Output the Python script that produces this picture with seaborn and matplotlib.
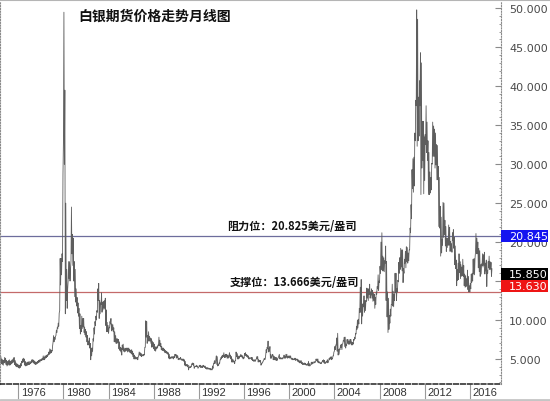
import numpy as np
import pandas as pd
import matplotlib
matplotlib.use("Agg")
import matplotlib.pyplot as plt
import matplotlib.transforms as mtransforms
from matplotlib.patches import Rectangle
from matplotlib.lines import Line2D
import seaborn as sns

# ---------------- data (monthly low / high, USD per ounce) ----------------
start_year, start_month = 1974, 6

low = [
    4.5, 4.4, 4.3, 4.2, 4.5, 4.6, 4.3,                                  # 1974 Jun-Dec
    4.1, 4.2, 4.3, 4.2, 4.3, 4.4, 4.5, 4.6, 4.3, 4.1, 4.0, 4.0,         # 1975
    3.9, 3.8, 3.9, 4.1, 4.5, 4.6, 4.6, 4.2, 4.1, 4.2, 4.2, 4.3,         # 1976
    4.3, 4.4, 4.5, 4.6, 4.5, 4.4, 4.3, 4.3, 4.4, 4.5, 4.6, 4.6,         # 1977
    4.8, 4.8, 4.9, 4.9, 4.9, 5.1, 5.2, 5.3, 5.5, 5.6, 5.7, 5.8,         # 1978
    6.0, 7.2, 7.2, 7.5, 8.0, 8.4, 8.9, 9.2, 11.2, 14.5, 15.8, 17.5,     # 1979
    33.0, 30.0, 10.8, 12.5, 11.5, 15.0, 15.3, 15.0, 17.5, 18.5, 17.0, 15.0,  # 1980
    13.0, 12.3, 11.8, 10.9, 10.5, 8.9, 8.2, 8.5, 8.9, 9.1, 8.4, 8.1,    # 1981
    7.8, 7.2, 6.8, 6.8, 6.4, 4.9, 5.4, 6.0, 7.3, 8.2, 9.3, 10.0,        # 1982
    11.0, 12.5, 10.2, 10.8, 12.0, 11.0, 11.3, 11.5, 11.4, 9.3, 8.5, 8.5,  # 1983
    8.3, 9.0, 9.5, 8.6, 8.7, 8.5, 7.2, 7.2, 7.0, 7.0, 7.1, 6.3,         # 1984
    6.1, 5.9, 5.5, 6.2, 6.0, 5.9, 6.0, 6.1, 5.9, 6.0, 5.9, 5.8,         # 1985
    5.7, 5.6, 5.3, 5.0, 5.0, 5.0, 5.0, 4.9, 5.4, 5.5, 5.4, 5.3,         # 1986
    5.4, 5.4, 5.5, 6.5, 7.8, 7.0, 7.3, 7.3, 7.3, 7.0, 6.5, 6.6,         # 1987
    6.3, 6.1, 6.0, 6.3, 6.4, 6.7, 6.7, 6.6, 6.2, 6.1, 6.1, 6.0,         # 1988
    5.8, 5.8, 5.7, 5.6, 5.1, 5.0, 5.1, 5.1, 5.1, 5.0, 5.2, 5.4,         # 1989
    5.1, 5.2, 4.9, 4.9, 5.0, 4.9, 4.8, 4.8, 4.7, 4.2, 4.1, 4.1,         # 1990
    4.0, 3.6, 3.9, 3.9, 4.0, 4.3, 4.2, 3.8, 4.0, 4.0, 4.0, 3.8,         # 1991
    4.0, 4.0, 3.9, 3.9, 3.9, 4.0, 3.9, 3.8, 3.7, 3.7, 3.7, 3.7,         # 1992
    3.6, 3.6, 3.6, 3.8, 4.4, 4.4, 4.9, 4.3, 4.1, 4.2, 4.4, 4.9,         # 1993
    5.0, 5.2, 5.3, 5.2, 5.2, 5.3, 5.1, 5.1, 5.5, 5.2, 5.0, 4.6,         # 1994
    4.6, 4.6, 4.4, 4.8, 5.3, 5.0, 5.0, 5.1, 5.3, 5.3, 5.2, 5.0,         # 1995
    5.1, 5.5, 5.4, 5.3, 5.2, 5.0, 5.0, 5.1, 4.9, 4.8, 4.7, 4.7,         # 1996
    4.7, 5.0, 5.0, 4.6, 4.7, 4.6, 4.2, 4.4, 4.6, 4.9, 4.9, 5.5,         # 1997
    5.8, 6.3, 5.9, 6.0, 5.1, 5.1, 5.4, 4.9, 4.9, 4.9, 4.8, 4.8,         # 1998
    5.1, 5.4, 5.0, 5.0, 5.0, 5.0, 5.2, 5.1, 5.1, 5.2, 5.1, 5.2,         # 1999
    5.1, 5.2, 5.0, 4.9, 4.9, 4.9, 4.9, 4.8, 4.9, 4.7, 4.6, 4.5,         # 2000
    4.5, 4.4, 4.3, 4.3, 4.3, 4.3, 4.2, 4.2, 4.2, 4.1, 4.1, 4.3,         # 2001
    4.3, 4.4, 4.5, 4.5, 4.6, 4.8, 4.6, 4.5, 4.5, 4.4, 4.4, 4.6,         # 2002
    4.7, 4.5, 4.4, 4.5, 4.6, 4.5, 4.8, 4.9, 5.0, 4.9, 5.0, 5.4,         # 2003
    6.0, 6.2, 6.8, 6.0, 5.5, 5.6, 6.2, 6.5, 6.2, 7.0, 7.3, 6.6,         # 2004
    6.4, 6.7, 7.0, 6.9, 6.9, 7.0, 6.8, 6.8, 6.9, 7.4, 7.6, 8.2,         # 2005
    8.8, 9.0, 9.5, 11.0, 11.0, 9.5, 10.5, 11.7, 11.0, 11.2, 12.4, 12.8,  # 2006
    12.5, 13.3, 12.8, 13.2, 12.8, 12.4, 12.5, 11.5, 12.0, 13.3, 14.0, 13.8,  # 2007
    14.8, 16.0, 16.5, 16.3, 16.3, 16.2, 17.3, 12.5, 10.4, 8.4, 8.8, 9.6,  # 2008
    10.5, 12.0, 11.8, 11.7, 12.5, 13.5, 12.5, 13.6, 14.9, 16.0, 16.5, 16.8,  # 2009
    16.3, 14.8, 16.0, 17.3, 16.7, 17.5, 17.3, 17.6, 19.0, 21.2, 23.0, 26.9,  # 2010
    26.4, 27.2, 33.0, 37.5, 32.3, 33.0, 33.6, 37.5, 26.1, 29.5, 30.5, 26.2,  # 2011
    27.9, 32.5, 31.5, 30.5, 26.1, 26.1, 26.3, 26.7, 30.0, 31.0, 31.0, 29.5,  # 2012
    29.9, 28.0, 28.0, 22.0, 21.8, 18.2, 18.6, 19.6, 20.6, 21.0, 19.5, 18.8,  # 2013
    19.3, 19.6, 19.6, 18.8, 18.9, 18.7, 20.2, 19.2, 17.1, 16.6, 14.4, 15.1,  # 2014
    15.2, 16.1, 15.3, 15.6, 15.7, 15.6, 14.4, 14.2, 14.3, 14.5, 13.9, 13.6,  # 2015
    13.6, 14.0, 14.8, 15.0, 15.9, 15.8, 18.7, 18.5, 18.5, 16.7, 16.2, 15.6,  # 2016
    15.9, 17.0, 16.8, 17.0, 15.9, 16.3, 14.3, 16.0, 16.7, 16.5, 16.5, 15.6,  # 2017
]

high = [
    5.3, 5.0, 4.9, 4.8, 5.2, 5.1, 4.8,                                  # 1974 Jun-Dec
    4.7, 4.8, 4.9, 4.7, 4.8, 4.9, 5.0, 5.2, 4.8, 4.5, 4.4, 4.3,         # 1975
    4.2, 4.2, 4.4, 4.7, 5.0, 5.1, 5.0, 4.7, 4.5, 4.6, 4.6, 4.7,         # 1976
    4.5, 4.7, 4.9, 4.9, 4.8, 4.7, 4.6, 4.6, 4.7, 4.8, 4.9, 4.9,         # 1977
    5.0, 5.1, 5.4, 5.2, 5.4, 5.4, 5.5, 5.6, 5.9, 6.3, 6.2, 6.1,         # 1978
    6.7, 8.0, 7.8, 7.9, 8.7, 9.1, 9.6, 10.9, 17.9, 17.9, 18.5, 28.7,    # 1979
    49.5, 39.5, 25.0, 16.5, 14.0, 17.5, 17.5, 16.5, 24.5, 21.0, 20.5, 17.5,  # 1980
    16.5, 14.0, 12.9, 12.2, 11.5, 10.8, 9.3, 10.5, 10.2, 10.2, 9.1, 8.8,  # 1981
    8.5, 8.0, 7.3, 7.7, 7.0, 6.4, 6.4, 7.6, 9.0, 9.8, 10.5, 11.2,       # 1982
    14.0, 14.7, 12.5, 12.2, 13.5, 12.3, 12.4, 12.5, 12.8, 11.3, 9.7, 9.3,  # 1983
    9.0, 9.8, 10.2, 9.5, 9.4, 9.0, 8.5, 8.0, 7.6, 7.6, 7.5, 7.2,        # 1984
    6.5, 6.4, 6.8, 6.9, 6.4, 6.3, 6.4, 6.4, 6.4, 6.4, 6.2, 6.1,         # 1985
    6.2, 6.0, 5.7, 5.5, 5.3, 5.2, 5.2, 5.3, 5.9, 5.8, 5.7, 5.5,         # 1986
    5.6, 5.6, 6.5, 9.9, 9.8, 8.0, 8.5, 7.9, 7.7, 7.6, 7.3, 7.1,         # 1987
    6.9, 6.6, 6.5, 6.6, 6.8, 7.8, 7.4, 7.0, 6.6, 6.4, 6.4, 6.2,         # 1988
    6.1, 6.0, 5.9, 5.8, 5.6, 5.2, 5.3, 5.3, 5.3, 5.3, 5.6, 5.6,         # 1989
    5.5, 5.4, 5.1, 5.1, 5.2, 5.0, 5.0, 5.0, 4.9, 4.7, 4.3, 4.3,         # 1990
    4.2, 3.9, 4.1, 4.0, 4.4, 4.5, 4.4, 4.0, 4.1, 4.2, 4.1, 3.9,         # 1991
    4.2, 4.2, 4.1, 4.1, 4.2, 4.1, 4.1, 3.9, 3.9, 3.9, 3.8, 3.8,         # 1992
    3.8, 3.7, 4.1, 4.4, 4.8, 4.6, 5.4, 5.3, 4.3, 4.5, 4.9, 5.2,         # 1993
    5.4, 5.5, 5.8, 5.5, 5.6, 5.6, 5.5, 5.4, 5.8, 5.5, 5.3, 5.0,         # 1994
    4.9, 4.7, 4.8, 5.9, 5.7, 5.4, 5.3, 5.4, 5.6, 5.5, 5.4, 5.2,         # 1995
    5.7, 5.8, 5.6, 5.5, 5.4, 5.2, 5.1, 5.2, 5.2, 4.9, 4.9, 4.9,         # 1996
    4.9, 5.3, 5.3, 4.9, 4.8, 4.8, 4.4, 4.6, 4.8, 5.1, 5.0, 6.2,         # 1997
    6.5, 7.3, 6.3, 6.6, 5.6, 5.4, 5.6, 5.4, 5.3, 5.2, 5.2, 5.0,         # 1998
    5.2, 5.6, 5.2, 5.1, 5.2, 5.1, 5.5, 5.3, 5.6, 5.6, 5.3, 5.4,         # 1999
    5.4, 5.4, 5.1, 5.1, 5.0, 5.1, 5.1, 5.0, 5.0, 4.9, 4.8, 4.6,         # 2000
    4.8, 4.6, 4.5, 4.4, 4.5, 4.4, 4.3, 4.4, 4.7, 4.4, 4.2, 4.6,         # 2001
    4.6, 4.5, 4.7, 4.6, 5.0, 5.0, 5.0, 4.7, 4.6, 4.5, 4.6, 4.8,         # 2002
    4.9, 4.8, 4.6, 4.7, 4.9, 4.6, 5.1, 5.2, 5.3, 5.1, 5.4, 5.9,         # 2003
    6.6, 6.8, 7.7, 8.3, 6.2, 6.3, 6.8, 6.9, 6.9, 7.4, 7.8, 7.8,         # 2004
    6.9, 7.5, 7.5, 7.3, 7.5, 7.5, 7.2, 7.1, 7.5, 7.8, 8.3, 9.2,         # 2005
    10.0, 10.1, 11.5, 14.2, 15.2, 12.0, 12.1, 13.1, 12.5, 12.5, 14.1, 14.0,  # 2006
    14.0, 14.6, 13.6, 14.0, 13.8, 13.5, 13.3, 12.9, 13.6, 14.3, 15.8, 15.0,  # 2007
    16.9, 20.0, 21.2, 18.2, 18.0, 17.6, 19.5, 17.5, 13.6, 12.8, 10.6, 11.4,  # 2008
    12.0, 14.6, 13.7, 13.3, 16.0, 16.0, 14.0, 15.1, 17.4, 18.0, 19.2, 19.0,  # 2009
    19.0, 16.6, 17.8, 18.8, 19.4, 19.3, 18.6, 19.0, 21.8, 24.8, 29.3, 30.7,  # 2010
    30.9, 34.0, 38.2, 49.8, 48.6, 38.6, 40.7, 44.3, 43.0, 35.5, 35.5, 33.5,  # 2011
    33.8, 37.5, 35.4, 33.0, 31.5, 29.0, 28.3, 30.1, 35.4, 34.9, 34.5, 34.0,  # 2012
    32.5, 32.4, 29.7, 28.3, 24.6, 23.2, 20.3, 25.1, 25.0, 22.8, 22.0, 20.5,  # 2013
    20.5, 22.2, 21.9, 20.1, 19.8, 21.2, 21.6, 20.6, 19.5, 17.7, 16.5, 17.3,  # 2014
    18.5, 17.5, 17.1, 16.8, 17.8, 17.0, 15.9, 15.7, 15.3, 16.4, 15.6, 14.4,  # 2015
    14.7, 15.9, 16.0, 17.8, 17.9, 17.9, 21.1, 20.5, 20.0, 19.2, 18.9, 17.1,  # 2016
    17.2, 18.5, 18.4, 18.7, 17.3, 17.7, 16.4, 17.5, 18.2, 17.5, 17.4, 16.6,  # 2017
]

year_ticks = [1976, 1980, 1984, 1988, 1992, 1996, 2000, 2004, 2008, 2012, 2016]
year_labels = [str(y) for y in year_ticks]
price_ticks = [5, 10, 15, 20, 25, 30, 35, 40, 45, 50]
price_labels = [f"{v:.3f}" for v in price_ticks]

resist_level = 20.845
support_level = 13.630
last_price = 15.850

title_text = "白银期货价格走势月线图"
resist_text = "阻力位：20.825美元/盎司"
support_text = "支撑位：13.666美元/盎司"

# ---------------- styling ----------------
sns.set_theme(style="white")
plt.rcParams["font.family"] = ["DejaVu Sans", "Noto Sans CJK SC"]
cjk = ["Noto Sans CJK SC", "DejaVu Sans"]

W, H = 550, 402
fig = plt.figure(figsize=(W / 100, H / 100), dpi=100)
fig.patch.set_facecolor("white")
ax = fig.add_axes([0 / W, 17 / H, 501 / W, 383 / H])
ax.set_facecolor("white")

# long-form frame: each month goes low -> high
n = len(low)
t0 = start_year + (start_month - 1) / 12
t = t0 + np.arange(n) / 12
df = pd.DataFrame({
    "t": np.column_stack([t, t + 0.5 / 12]).ravel(),
    "price": np.column_stack([low, high]).ravel(),
})
sns.lineplot(data=df, x="t", y="price", sort=False, estimator=None,
             color="#5e5e5e", linewidth=0.6, ax=ax)

ax.set_xlim(1974.38, 2018.76)
ax.set_ylim(1.79, 50.94)
ax.set_xlabel("")
ax.set_ylabel("")

# horizontal level lines
ax.axhline(resist_level, color="#6d6d9c", lw=0.9, zorder=1)
ax.axhline(support_level, color="#c46a6a", lw=0.9, zorder=1)

# spines
ax.spines["top"].set_visible(False)
for s in ("left", "right"):
    ax.spines[s].set_visible(True)
    ax.spines[s].set_color("#8a8a8a")
    ax.spines[s].set_linestyle((0, (1, 1.5)))
    ax.spines[s].set_linewidth(0.8)
ax.spines["bottom"].set_color("#222222")
ax.spines["bottom"].set_linestyle((0, (3, 1.5)))
ax.spines["bottom"].set_linewidth(1.1)

# right price axis
ax.yaxis.tick_right()
ax.set_yticks(price_ticks)
ax.set_yticklabels(price_labels)
ax.set_yticks(np.arange(2, 51, 1), minor=True)
ax.tick_params(axis="y", which="major", direction="in", length=4, width=0.8,
               color="#8a8a8a", labelsize=8, labelcolor="#4a4a4a", pad=5.8,
               right=True, left=False)
ax.tick_params(axis="y", which="minor", direction="in", length=1.8, width=0.6,
               color="#8a8a8a", right=True, left=False)

# bottom year band: separators + labels
ax.set_xticks(year_ticks)
ax.set_xticklabels([""] * len(year_ticks))
ax.tick_params(axis="x", direction="out", length=11, width=0.8,
               color="#9a9a9a", bottom=True)
xtr = mtransforms.blended_transform_factory(ax.transData, ax.transAxes)
for yr, lab in zip(year_ticks, year_labels):
    ax.text(yr + 0.22, -0.021, lab, transform=xtr, ha="left", va="center",
            fontsize=8, color="#333333", family=["Liberation Sans", "DejaVu Sans"],
            clip_on=False)

# price boxes on the right (drawn over the axis labels they cover)
ytr = mtransforms.blended_transform_factory(ax.transAxes, ax.transData)
box_h = 12 / 7.793
for ypos, val, bg in [(resist_level, resist_level, "#1414f0"),
                      (last_price, last_price, "#000000"),
                      (14.37, support_level, "#ee1515")]:
    ax.add_patch(Rectangle((1.0, ypos - box_h / 2), 47 / 501, box_h,
                           transform=ytr, facecolor=bg, edgecolor="none",
                           clip_on=False, zorder=10))
    ax.text(1.0 + 8 / 501, ypos, f"{val:.3f}", transform=ytr, ha="left",
            va="center", fontsize=8, color="white", clip_on=False, zorder=11)

# title and level annotations
ax.text(78 / 501, 0.961, title_text, transform=ax.transAxes, fontsize=10,
        fontweight="bold", family=cjk, va="center", ha="left", color="#111111")
ax.text(227 / 501, 0.414, resist_text, transform=ax.transAxes, fontsize=8,
        fontweight="bold", family=cjk, va="center", ha="left", color="#111111")
ax.text(230 / 501, 0.267, support_text, transform=ax.transAxes, fontsize=8,
        fontweight="bold", family=cjk, va="center", ha="left", color="#111111")

# outer frame lines
fig.add_artist(Line2D([0, 1], [1 - 1 / H, 1 - 1 / H], transform=fig.transFigure,
                      color="#b5b5b5", lw=1.5))
fig.add_artist(Line2D([0, 1], [1.5 / H, 1.5 / H], transform=fig.transFigure,
                      color="#c5c5c5", lw=2))

fig.savefig("out.png", dpi=100, facecolor="white")
